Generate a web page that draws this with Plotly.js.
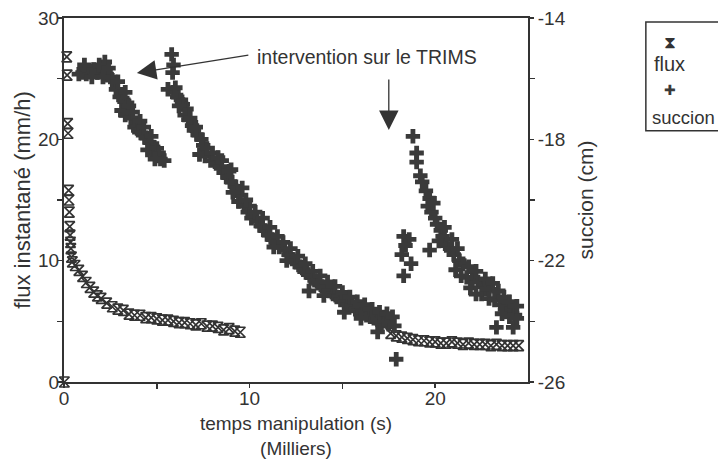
<!DOCTYPE html>
<html>
<head>
<meta charset="utf-8">
<script src="https://cdn.plot.ly/plotly-3.0.1.min.js"></script>
<style>html,body{margin:0;padding:0;background:#fff}#chart{width:718px;height:459px}</style>
</head>
<body>
<div id="chart"></div>
<script>
// ---- data (x in thousands of seconds) ----
var fluxX = [0.02,0.15,0.17,0.2,0.22,0.25,0.27,0.29,0.31,0.33,0.35,0.37,0.4,0.45,
  0.6,0.8,1.0,1.2,1.4,1.6,1.8,2.0,2.3,2.6,2.9,3.2,3.5,3.8,4.1,4.4,4.7,5.0,5.3,5.6,5.9,6.2,6.5,6.8,7.1,7.4,7.7,8.0,8.3,8.6,8.9,9.2,9.5,
  17.6,17.9,18.2,18.5,18.8,19.1,19.4,19.7,20.0,20.3,20.6,20.9,21.2,21.5,21.8,22.1,22.4,22.7,23.0,23.3,23.6,23.9,24.2,24.5];
var fluxY = [0,26.8,25.3,21.3,20.5,15.8,15.0,14.0,12.8,12.1,11.5,11.0,10.3,9.9,
  9.6,9.2,8.7,8.2,7.8,7.4,7.1,6.9,6.5,6.2,6.0,5.9,5.6,5.5,5.5,5.3,5.3,5.2,5.1,5.1,5.0,4.9,4.9,4.8,4.7,4.8,4.6,4.6,4.5,4.3,4.4,4.2,4.1,
  4.0,3.8,3.7,3.6,3.5,3.4,3.4,3.3,3.3,3.2,3.2,3.3,3.2,3.1,3.2,3.1,3.1,3.1,3.0,3.1,3.0,3.0,3.0,3.0];

var succX = [0.8,1.0,1.2,1.4,1.6,1.8,2.0,2.2,2.3,2.5,2.6,2.8,3.0,3.2,3.4,3.1,3.3,3.6,3.9,3.8,4.0,4.2,4.4,4.6,4.8,4.5,4.8,5.0,5.2,5.4,
  1.1,1.5,1.9,2.4,2.1,2.9,3.3,3.5,3.7,4.1,4.3,4.7,5.0,5.1,4.9,
  5.8,5.9,5.85,5.6,5.9,6.1,6.3,6.4,6.6,6.7,6.9,7.0,7.2,7.4,7.5,7.3,7.6,7.9,8.2,8.4,8.5,8.6,8.8,9.0,9.0,9.2,9.3,9.5,9.6,9.4,9.7,9.9,10.0,10.1,10.4,10.6,10.8,11.0,11.2,11.4,11.6,11.9,12.1,12.3,12.5,12.7,12.9,13.1,13.2,13.3,13.5,13.7,13.9,14.1,14.3,14.5,14.7,14.9,15.1,15.1,15.3,15.5,15.7,15.9,16.1,16.3,16.5,16.7,16.9,16.9,17.1,17.3,17.5,17.8,17.9,
  6.0,6.2,6.5,6.8,7.1,7.7,8.0,8.3,8.9,9.1,9.8,10.3,10.7,11.1,11.5,11.8,12.2,12.6,13.0,13.4,13.8,14.2,14.6,15.0,15.4,15.8,16.2,16.6,17.0,17.4,17.7,11.3,12.0,14.0,16.0,
  18.3,18.6,18.4,18.2,18.7,18.3,19.7,
  18.8,19.0,19.0,19.2,19.3,19.5,19.7,19.6,19.8,20.0,20.1,20.3,20.4,20.2,20.6,20.8,21.0,21.3,21.5,21.1,21.4,21.7,22.0,22.3,22.6,22.9,22.5,22.9,23.2,23.5,23.8,24.1,23.6,24.0,24.3,24.2,23.3,24.4,
  19.9,20.5,20.9,21.2,21.8,22.2,22.7,23.1,23.4,23.7,24.0,24.4,21.9,22.2];
var succY = [-15.85,-15.8,-15.85,-15.75,-15.7,-15.8,-15.75,-15.45,-15.85,-15.95,-16.05,-16.35,-16.6,-16.7,-16.8,-17.05,-17.2,-17.3,-17.45,-17.6,-17.7,-17.8,-17.95,-18.1,-18.25,-18.35,-18.45,-18.55,-18.65,-18.7,
  -15.55,-15.95,-15.55,-15.65,-15.95,-16.1,-16.45,-16.9,-17.1,-17.4,-17.6,-17.9,-18.3,-18.45,-18.65,
  -15.2,-15.55,-15.8,-16.35,-16.45,-16.6,-16.7,-16.85,-17.0,-17.35,-17.55,-17.7,-17.85,-18.0,-18.2,-18.5,-18.55,-18.7,-18.8,-18.9,-18.7,-19.1,-19.25,-19.0,-19.4,-19.55,-19.7,-19.85,-19.6,-20.05,-20.2,-20.4,-20.2,-20.6,-20.7,-20.85,-21.0,-21.15,-21.3,-21.4,-21.55,-21.65,-21.8,-21.95,-22.05,-22.2,-22.3,-22.4,-23.0,-22.55,-22.65,-22.75,-22.85,-22.95,-23.0,-23.1,-23.2,-23.3,-23.35,-23.7,-23.45,-23.5,-23.6,-23.65,-23.7,-23.8,-23.85,-23.9,-23.95,-24.35,-24.05,-24.0,-24.1,-24.15,-25.25,
  -16.3,-16.9,-17.2,-17.3,-17.6,-18.3,-18.45,-18.6,-19.05,-19.75,-20.0,-20.4,-20.6,-20.9,-21.2,-21.4,-21.6,-21.85,-22.1,-22.35,-22.5,-22.7,-22.85,-23.05,-23.2,-23.35,-23.45,-23.6,-23.7,-23.75,-23.85,-21.55,-22.0,-23.15,-23.9,
  -21.2,-21.3,-21.5,-21.8,-22.1,-22.5,-21.65,
  -17.9,-18.45,-18.75,-19.2,-19.4,-19.7,-19.95,-20.2,-20.4,-20.6,-20.8,-21.0,-21.2,-21.35,-21.5,-21.6,-21.8,-22.0,-22.1,-22.3,-22.5,-22.55,-22.6,-22.7,-22.85,-22.95,-23.1,-23.25,-23.3,-23.45,-23.5,-23.6,-23.75,-23.85,-23.8,-24.2,-24.2,-23.9,
  -20.1,-20.9,-21.3,-21.6,-22.2,-22.35,-22.6,-22.75,-23.0,-23.2,-23.35,-23.5,-22.9,-23.1];

var xTickVals = [0,10,20];
var xTickText = ["0","10","20"];
var yTickVals = [0,10,20,30];
var yTickText = ["0","10","20","30"];
var y2TickVals = [-26,-22,-18,-14];
var y2TickText = ["-26","-22","-18","-14"];

var ink = '#333333';
var font = 'Liberation Sans, Arial, Helvetica, sans-serif';

var traces = [
  {x: fluxX, y: fluxY, type:'scatter', mode:'markers', name:'flux', yaxis:'y',
   marker:{symbol:'hourglass-open', size:10, color:ink, line:{width:1.7, color:ink}}, cliponaxis:false},
  {x: succX, y: succY, type:'scatter', mode:'markers', name:'succion', yaxis:'y2',
   marker:{symbol:'cross', size:12, color:'#3a3a3a', line:{width:0}}}
];

var axisCommon = {showgrid:false, zeroline:false, showline:true, linecolor:ink, linewidth:2,
  ticks:'outside', ticklen:4, tickwidth:1.5, tickcolor:ink,
  tickfont:{family:font, size:19, color:ink}};

var layout = {
  width:718, height:459,
  margin:{l:64, r:190, t:18, b:77},
  paper_bgcolor:'#fff', plot_bgcolor:'#fff',
  showlegend:false,
  font:{family:font, color:ink},
  xaxis: Object.assign({}, axisCommon, {
    range:[0,25], tickmode:'array', tickvals:xTickVals, ticktext:xTickText, mirror:true,
    ticklabelstandoff:-6,
    minor:{tickvals:[5,15], ticks:'outside', ticklen:5, tickcolor:ink, tickwidth:1.5},
    title:{text:'temps manipulation (s)<br>(Milliers)', font:{family:font, size:19, color:ink}, standoff:11}
  }),
  yaxis: Object.assign({}, axisCommon, {
    range:[0,30], tickmode:'array', tickvals:yTickVals, ticktext:yTickText,
    ticklabelstandoff:-5,
    minor:{tickvals:[5,15,25], ticks:'outside', ticklen:5, tickcolor:ink, tickwidth:1.5},
    title:{text:'flux instantané (mm/h)', font:{family:font, size:22, color:ink}, standoff:1}
  }),
  yaxis2: Object.assign({}, axisCommon, {
    overlaying:'y', side:'right', range:[-26,-14], tickmode:'array', tickvals:y2TickVals, ticktext:y2TickText,
    minor:{tickvals:[-24,-20,-16], ticks:'outside', ticklen:5, tickcolor:ink, tickwidth:1.5},
    title:{text:'succion (cm)', font:{family:font, size:21, color:ink}, standoff:14}
  }),
  shapes:[
    {type:'rect', xref:'paper', yref:'paper', x0:1.254, x1:1.43, y0:0.69, y1:0.989,
     line:{color:ink, width:1.5}, fillcolor:'rgba(0,0,0,0)'}
  ],
  annotations:[
    {xref:'paper', yref:'paper', x:0.4116, y:0.893, xanchor:'left', yanchor:'middle', showarrow:false,
     text:'intervention sur le TRIMS', font:{family:font, size:19.5, color:ink}},
    {xref:'paper', yref:'paper', x:0.157, y:0.849, text:'', showarrow:true, ax:113, ay:-18,
     arrowhead:2, arrowsize:3, arrowwidth:1.3, arrowcolor:ink},
    {xref:'paper', yref:'paper', x:0.700, y:0.692, text:'', showarrow:true, ax:0, ay:-52,
     arrowhead:2, arrowsize:3, arrowwidth:1.3, arrowcolor:ink},
    {xref:'paper', yref:'paper', x:1.306, y:0.934, xanchor:'center', yanchor:'middle', showarrow:false, text:'⧗', font:{family:'DejaVu Sans', size:17, color:ink}},
    {xref:'paper', yref:'paper', x:1.267, y:0.874, xanchor:'left', yanchor:'middle', showarrow:false, text:'flux', font:{family:font, size:20, color:ink}},
    {xref:'paper', yref:'paper', x:1.306, y:0.802, xanchor:'center', yanchor:'middle', showarrow:false, text:'✚', font:{family:'DejaVu Sans', size:14, color:'#3a3a3a'}},
    {xref:'paper', yref:'paper', x:1.263, y:0.728, xanchor:'left', yanchor:'middle', showarrow:false, text:'succion', font:{family:font, size:18.5, color:ink}}
  ]
};

Plotly.newPlot('chart', traces, layout, {staticPlot:true, displayModeBar:false});
</script>
</body>
</html>
